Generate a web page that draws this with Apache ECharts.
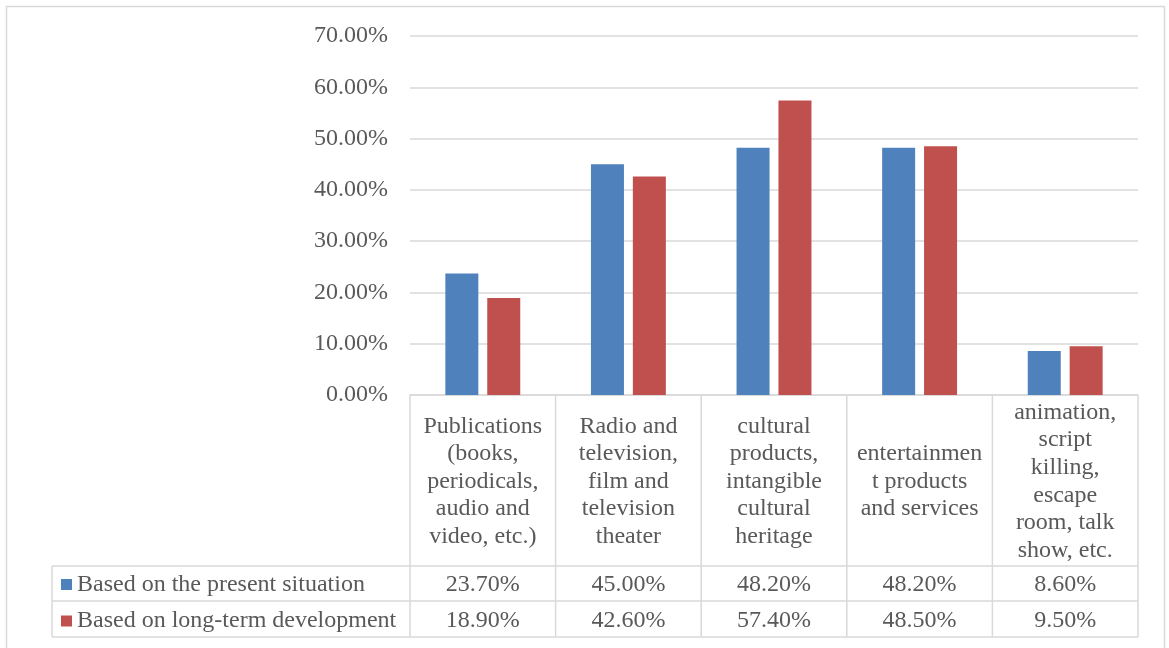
<!DOCTYPE html>
<html>
<head>
<meta charset="utf-8">
<script src="https://cdn.jsdelivr.net/npm/echarts@6/dist/echarts.min.js"></script>
<style>
  html, body { margin: 0; padding: 0; background: #ffffff; }
  #chart { width: 1169px; height: 648px; }
</style>
</head>
<body>
<div id="chart"></div>
<script>
// Category names, wrapped the way they appear in the table header
const categories = [
  'Publications\n(books,\nperiodicals,\naudio and\nvideo, etc.)',
  'Radio and\ntelevision,\nfilm and\ntelevision\ntheater',
  'cultural\nproducts,\nintangible\ncultural\nheritage',
  'entertainmen\nt products\nand services',
  'animation,\nscript\nkilling,\nescape\nroom, talk\nshow, etc.'
];
const seriesNames = ['Based on the present situation', 'Based on long-term development'];
const presentValues = [23.7, 45.0, 48.2, 48.2, 8.6];
const longTermValues = [18.9, 42.6, 57.4, 48.5, 9.5];
const yTicks = [0, 10, 20, 30, 40, 50, 60, 70];

const FONT = '"Liberation Serif", "Times New Roman", serif';
const TEXT = '#595959';
const LINE = '#d9d9d9';
const BLUE = '#4f81bd';
const RED = '#c0504d';

// plot area and data-table geometry (px)
const W = 1169, H = 648;
const plotLeft = 410, plotRight = 1138, plotTop = 36, plotBottom = 395;
const headerBottom = 566, row1Bottom = 601, row2Bottom = 637, tableLeft = 52;

const pct = v => v.toFixed(2) + '%';

const graphics = [];
// outer chart frame
graphics.push({ type: 'rect', shape: { x: 6.5, y: 6.5, width: 1158, height: 660 },
  style: { fill: null, stroke: LINE, lineWidth: 1.5 }, silent: true });
function hline(x1, x2, y) {
  graphics.push({ type: 'line', shape: { x1, y1: y, x2, y2: y }, style: { stroke: LINE, lineWidth: 1.5 }, silent: true });
}
function vline(x, y1, y2) {
  graphics.push({ type: 'line', shape: { x1: x, y1, x2: x, y2 }, style: { stroke: LINE, lineWidth: 1.5 }, silent: true });
}
// table rules
hline(tableLeft, plotRight, headerBottom);
hline(tableLeft, plotRight, row1Bottom);
hline(tableLeft, plotRight, row2Bottom);
vline(tableLeft, headerBottom, row2Bottom);
const colW = (plotRight - plotLeft) / categories.length;
for (let i = 0; i <= categories.length; i++) {
  vline(plotLeft + i * colW, plotBottom, row2Bottom);
}

const axisCommon = {
  type: 'category',
  gridIndex: 0,
  position: 'bottom',
  axisTick: { show: false },
  axisLine: { show: false },
  splitLine: { show: false }
};
const labelCommon = {
  interval: 0,
  color: TEXT,
  fontFamily: FONT,
  fontSize: 24,
  verticalAlign: 'middle',
  align: 'center'
};

const chart = echarts.init(document.getElementById('chart'), null, { renderer: 'canvas' });
chart.setOption({
  backgroundColor: '#ffffff',
  animation: false,
  grid: { left: plotLeft, right: W - plotRight, top: plotTop, bottom: H - plotBottom, containLabel: false },
  legend: {
    orient: 'vertical',
    left: 61, top: 572.5, padding: 0,
    itemWidth: 11, itemHeight: 11, itemGap: 12.5,
    icon: 'rect',
    textStyle: { color: TEXT, fontFamily: FONT, fontSize: 24 },
    data: seriesNames
  },
  xAxis: [
    Object.assign({}, axisCommon, {
      data: categories,
      axisLine: { show: true, lineStyle: { color: LINE, width: 1.5 } },
      axisLabel: Object.assign({}, labelCommon, { margin: 86.5, lineHeight: 27.6 })
    }),
    Object.assign({}, axisCommon, {
      data: presentValues.map(pct),
      axisLabel: Object.assign({}, labelCommon, { margin: 189.5 })
    }),
    Object.assign({}, axisCommon, {
      data: longTermValues.map(pct),
      axisLabel: Object.assign({}, labelCommon, { margin: 225.5 })
    })
  ],
  yAxis: {
    type: 'value',
    min: yTicks[0], max: yTicks[yTicks.length - 1], interval: 10,
    axisLine: { show: false },
    axisTick: { show: false },
    splitLine: { lineStyle: { color: LINE, width: 1.5 } },
    axisLabel: {
      margin: 22, color: TEXT, fontFamily: FONT, fontSize: 24,
      formatter: v => pct(v)
    }
  },
  series: [
    { name: seriesNames[0], type: 'bar', xAxisIndex: 0, data: presentValues,
      barWidth: 33, barGap: '27%', itemStyle: { color: BLUE } },
    { name: seriesNames[1], type: 'bar', xAxisIndex: 0, data: longTermValues,
      barWidth: 33, barGap: '27%', itemStyle: { color: RED } }
  ],
  graphic: graphics
});
</script>
</body>
</html>
